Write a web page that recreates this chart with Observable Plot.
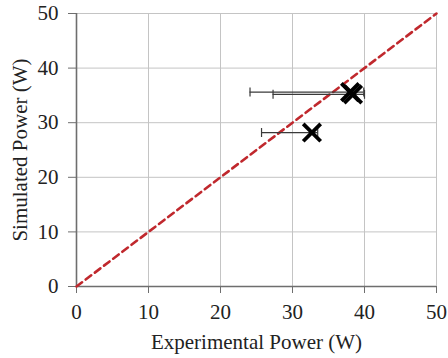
<!DOCTYPE html>
<html>
<head>
<meta charset="utf-8">
<script src="https://cdn.jsdelivr.net/npm/d3@7"></script>
<script src="https://cdn.jsdelivr.net/npm/@observablehq/plot@0.6"></script>
<style>
  html, body { margin: 0; padding: 0; background: #fff; }
  svg { display: block; }
</style>
</head>
<body>
<div id="chart"></div>
<script>
const experimental = [38.0, 38.4, 32.7];
const simulated = [35.6, 35.2, 28.2];
const errLow = [24.1, 27.3, 25.7];
const errHigh = [39.9, 40.0, 33.5];
const ticks = [0, 10, 20, 30, 40, 50];
const diagonal = [0, 50];

const data = experimental.map((x, i) => ({x, y: simulated[i], lo: errLow[i], hi: errHigh[i]}));

const capSymbol = {
  draw(context, size) {
    const h = 4.5;
    context.moveTo(0, -h);
    context.lineTo(0, h);
  }
};

const font = "'Liberation Serif', 'Times New Roman', serif";

const chart = Plot.plot({
  width: 448,
  height: 358,
  marginLeft: 76,
  marginRight: 12,
  marginTop: 13,
  marginBottom: 72,
  style: { fontFamily: font, fontSize: "21px", color: "#222", background: "#fff" },
  x: { domain: [0, 50] },
  y: { domain: [0, 50] },
  marks: [
    Plot.gridX(ticks, { stroke: "#c4c4c4", strokeOpacity: 1, strokeWidth: 1 }),
    Plot.gridY(ticks, { stroke: "#c4c4c4", strokeOpacity: 1, strokeWidth: 1 }),
    Plot.axisX({ ticks, tickSize: 7, tickPadding: 11, stroke: "#6e6e6e", fontSize: 21, label: null }),
    Plot.axisY({ ticks, tickSize: 8, tickPadding: 10, stroke: "#6e6e6e", fontSize: 21, label: null }),
    Plot.ruleX([0], { stroke: "#6e6e6e", strokeWidth: 1.6 }),
    Plot.ruleY([0], { stroke: "#6e6e6e", strokeWidth: 1.6 }),
    Plot.line(diagonal.map(v => ({x: v, y: v})), { x: "x", y: "y", stroke: "#c0282d", strokeWidth: 2.6, strokeDasharray: "7,4.5" }),
    Plot.ruleY(data, { y: "y", x1: "lo", x2: "hi", stroke: "#3a3a3a", strokeWidth: 1.2 }),
    Plot.dot(data, { x: "lo", y: "y", symbol: capSymbol, stroke: "#3a3a3a", strokeWidth: 1.2, r: 4 }),
    Plot.dot(data, { x: "hi", y: "y", symbol: capSymbol, stroke: "#3a3a3a", strokeWidth: 1.2, r: 4 }),
    Plot.dot(data, { x: "x", y: "y", symbol: "times", r: 8, stroke: "#000", strokeWidth: 3.8 }),
    Plot.text(["Experimental Power (W)"], { frameAnchor: "bottom", textAnchor: "middle", lineAnchor: "middle", dy: 56, fontSize: 21, fill: "#222" }),
    Plot.text(["Simulated Power (W)"], { frameAnchor: "left", textAnchor: "middle", lineAnchor: "middle", dx: -56, rotate: -90, fontSize: 21, fill: "#222" })
  ]
});
document.getElementById("chart").appendChild(chart);
</script>
</body>
</html>
